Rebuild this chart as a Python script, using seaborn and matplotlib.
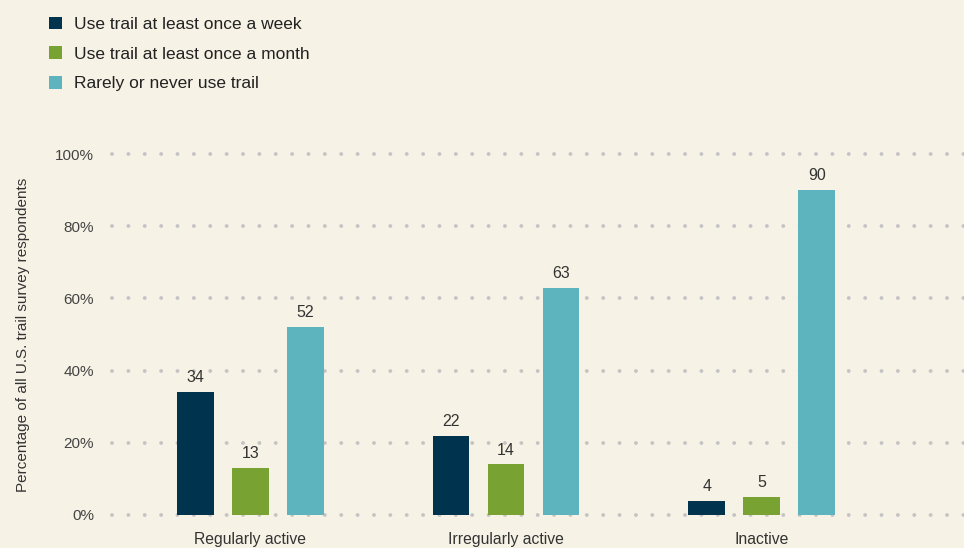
import matplotlib
matplotlib.use("Agg")
import matplotlib.pyplot as plt
import seaborn as sns
import pandas as pd
from matplotlib.patches import Patch

categories = ["Regularly active", "Irregularly active", "Inactive"]
series = ["Use trail at least once a week", "Use trail at least once a month", "Rarely or never use trail"]
weekly = [34, 22, 4]
monthly = [13, 14, 5]
rarely = [52, 63, 90]
yticks = [0, 20, 40, 60, 80, 100]
ytick_labels = ["0%", "20%", "40%", "60%", "80%", "100%"]
colors = ["#00334D", "#78A232", "#5DB3BE"]

rows = []
for s, vals in zip(series, [weekly, monthly, rarely]):
    for c, v in zip(categories, vals):
        rows.append({"category": c, "series": s, "value": v})
df = pd.DataFrame(rows)

sns.set_theme(style="white")
plt.rcParams["font.family"] = ["Liberation Sans", "DejaVu Sans"]
bg = "#F6F2E5"
fig = plt.figure(figsize=(9.64, 5.48), dpi=100, facecolor=bg)
ax = fig.add_axes([112/964, 1-515/548, (964-112)/964, (515-154)/548])
ax.set_facecolor(bg)

sns.barplot(data=df, x="category", y="value", hue="series", order=categories,
            hue_order=series, palette=colors, width=0.645, gap=0.33,
            saturation=1, ax=ax, legend=False, zorder=3, linewidth=0, edgecolor="none")

for cont in ax.containers:
    ax.bar_label(cont, fmt="%d", padding=5, fontsize=11.5, color="#333333")

ax.set_ylim(0, 100)
ax.set_xlim(-0.54, 2.79)
ax.set_yticks(yticks)
ax.set_yticklabels(ytick_labels, fontsize=11, color="#444444")
ax.tick_params(axis="y", length=0, pad=13)
ax.tick_params(axis="x", length=0, pad=12, labelsize=11.3, labelcolor="#333333")
ax.set_xlabel("")
ax.set_ylabel("Percentage of all U.S. trail survey respondents", fontsize=11, color="#333333")
ax.yaxis.set_label_coords(-0.096, 0.5)
for sp in ax.spines.values():
    sp.set_visible(False)
for y in yticks:
    ax.axhline(y, color="#C4C4C4", linestyle=(0, (0.01, 4.2)), linewidth=2.8,
               dash_capstyle="round", zorder=1, clip_on=False)

handles = [Patch(facecolor=c, edgecolor="none") for c in colors]
fig.legend(handles, series, loc="upper left", bbox_to_anchor=(33/964, 1-1/548),
           frameon=False, fontsize=12.5, handlelength=0.75, handleheight=0.75,
           handletextpad=0.7, labelspacing=0.82, labelcolor="#222222")

fig.savefig("out.png", dpi=100, facecolor=bg)
